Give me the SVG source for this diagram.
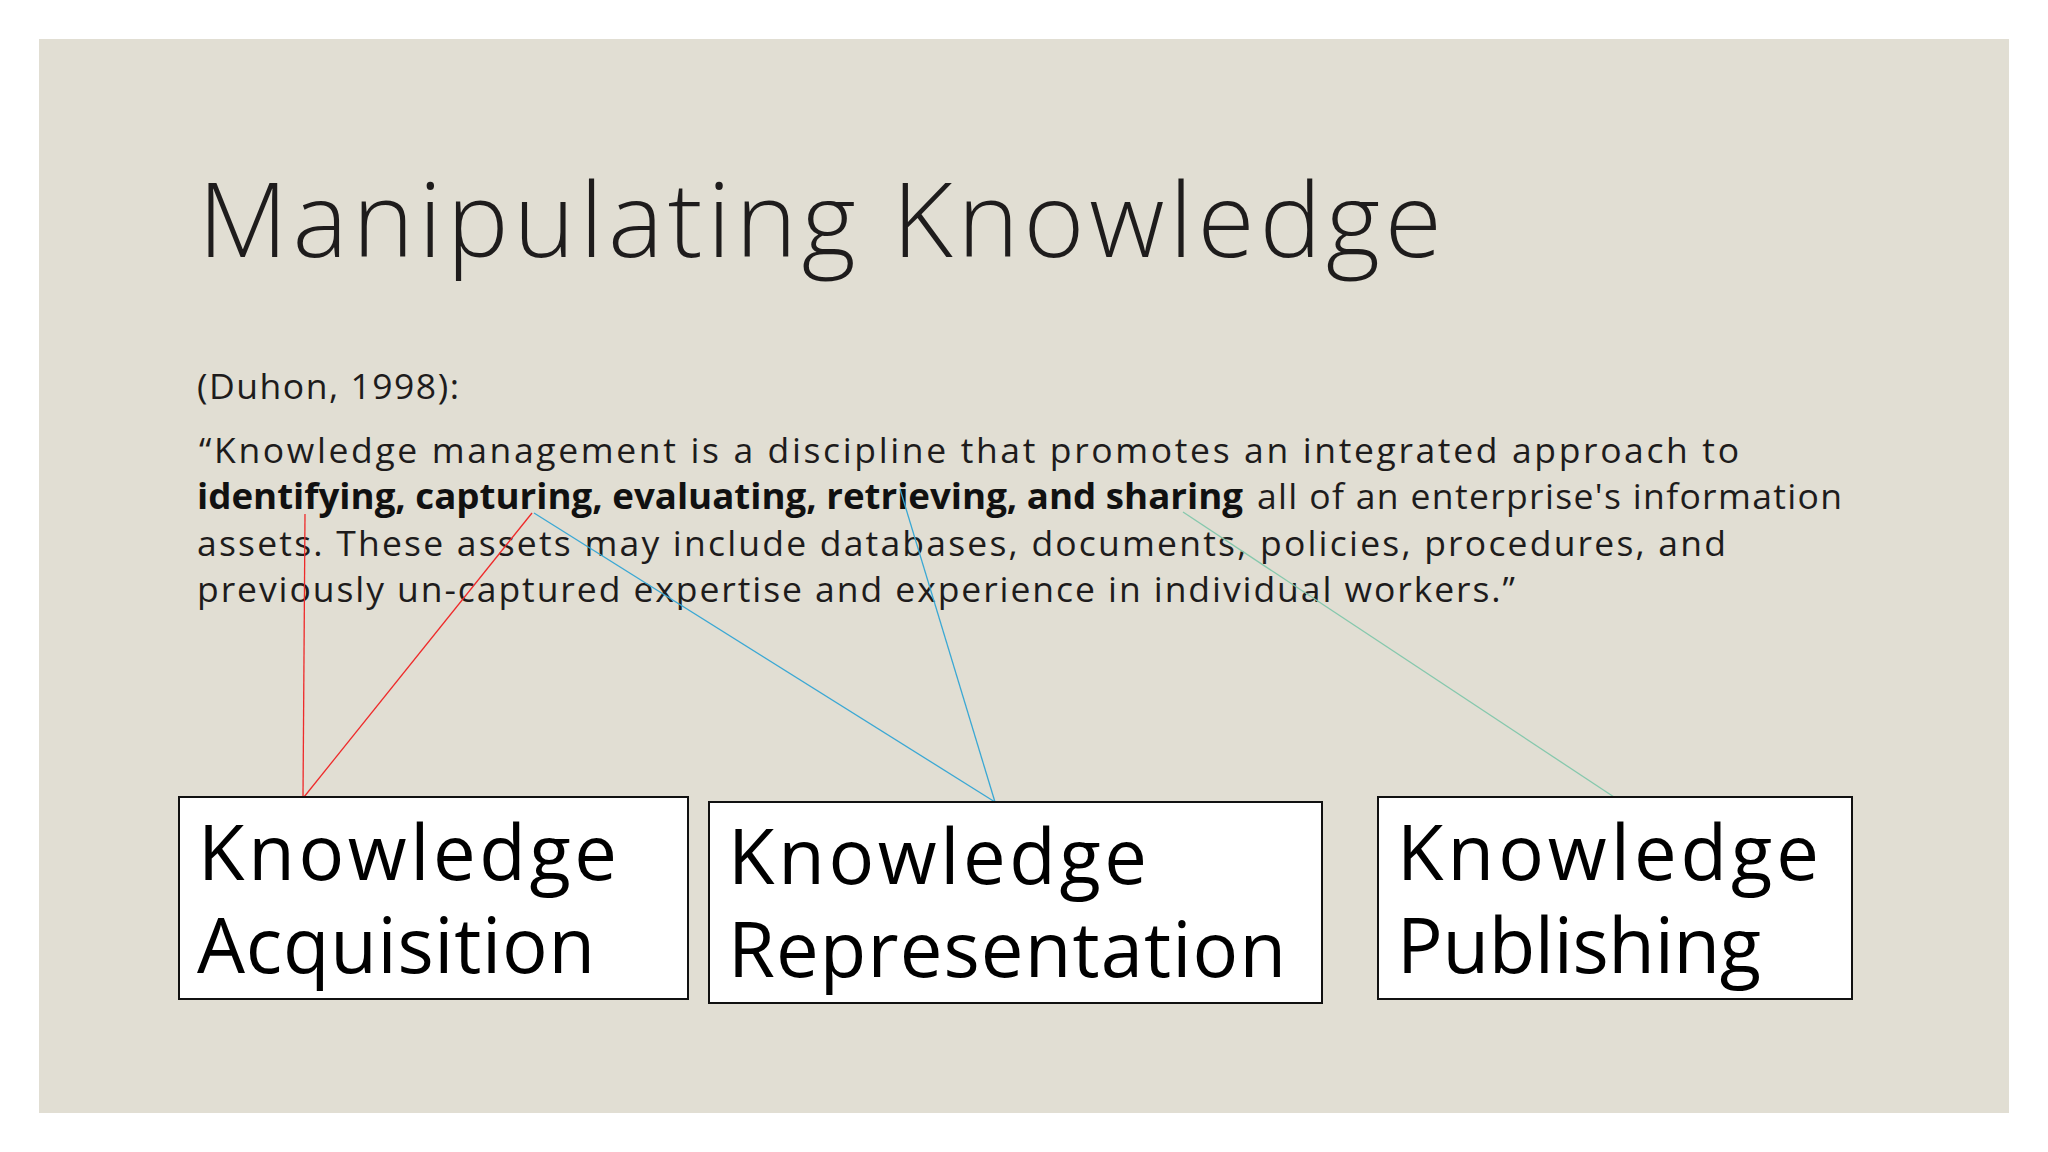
<svg xmlns="http://www.w3.org/2000/svg" width="2048" height="1152" viewBox="0 0 2048 1152">
  <style>
    .t { font-family: "Open Sans", "Liberation Sans", sans-serif; font-weight: 400; fill: #1e1c1c; }
    .title { font-family: "Open Sans", "Liberation Sans", sans-serif; font-weight: 300; fill: #1e1c1c; }
    .b { font-family: "Open Sans", "Liberation Sans", sans-serif; font-weight: 700; fill: #111111; }
    .body { font-size: 35.5px; }
    .box { fill: #ffffff; stroke: #111111; stroke-width: 2; }
    .bt { font-family: "Open Sans", "Liberation Sans", sans-serif; font-weight: 400; font-size: 76px; fill: #000000; }
    .red { stroke: #ee2a2a; stroke-width: 1.3; fill: none; }
    .blue { stroke: #3aa8d4; stroke-width: 1.3; fill: none; }
    .green { stroke: #86c8ad; stroke-width: 1.3; fill: none; }
  </style>
  <rect x="0" y="0" width="2048" height="1152" fill="#ffffff"/>
  <rect x="39" y="39" width="1970" height="1074" fill="#e1ded3"/>

  <g id="title">
    <text class="title" x="198" y="257" font-size="104" textLength="1244" lengthAdjust="spacing">Manipulating Knowledge</text>
  </g>

  <g id="quote">
    <text class="t body" x="197" y="399" textLength="262" lengthAdjust="spacing">(Duhon, 1998):</text>
    <text class="t body" x="199" y="463" textLength="1540" lengthAdjust="spacing">“Knowledge management is a discipline that promotes an integrated approach to</text>
    <text class="b body" x="197" y="509" textLength="1046" lengthAdjust="spacingAndGlyphs">identifying, capturing, evaluating, retrieving, and sharing</text>
    <text class="t body" x="1257" y="509" textLength="585" lengthAdjust="spacing">all of an enterprise's information</text>
    <text class="t body" x="197" y="556" textLength="1529" lengthAdjust="spacing">assets. These assets may include databases, documents, policies, procedures, and</text>
    <text class="t body" x="197" y="602" textLength="1318" lengthAdjust="spacing">previously un-captured expertise and experience in individual workers.”</text>
  </g>

  <g id="connectors">
    <line class="red" x1="305" y1="514" x2="303" y2="797"/>
    <line class="red" x1="532" y1="513" x2="304" y2="797"/>
    <line class="blue" x1="534" y1="513" x2="995" y2="802"/>
    <line class="blue" x1="900" y1="489" x2="995" y2="802"/>
    <line class="green" x1="1183" y1="512" x2="1614" y2="797"/>
  </g>

  <g id="node-acquisition">
    <rect class="box" x="179" y="797" width="509" height="202"/>
    <text class="bt" x="198" y="880" textLength="419" lengthAdjust="spacing">Knowledge</text>
    <text class="bt" x="197" y="973" textLength="398" lengthAdjust="spacing">Acquisition</text>
  </g>

  <g id="node-representation">
    <rect class="box" x="709" y="802" width="613" height="201"/>
    <text class="bt" x="728" y="884" textLength="419" lengthAdjust="spacing">Knowledge</text>
    <text class="bt" x="728" y="977" textLength="558" lengthAdjust="spacing">Representation</text>
  </g>

  <g id="node-publishing">
    <rect class="box" x="1378" y="797" width="474" height="202"/>
    <text class="bt" x="1397" y="880" textLength="422" lengthAdjust="spacing">Knowledge</text>
    <text class="bt" x="1397" y="973" textLength="364" lengthAdjust="spacing">Publishing</text>
  </g>
</svg>
